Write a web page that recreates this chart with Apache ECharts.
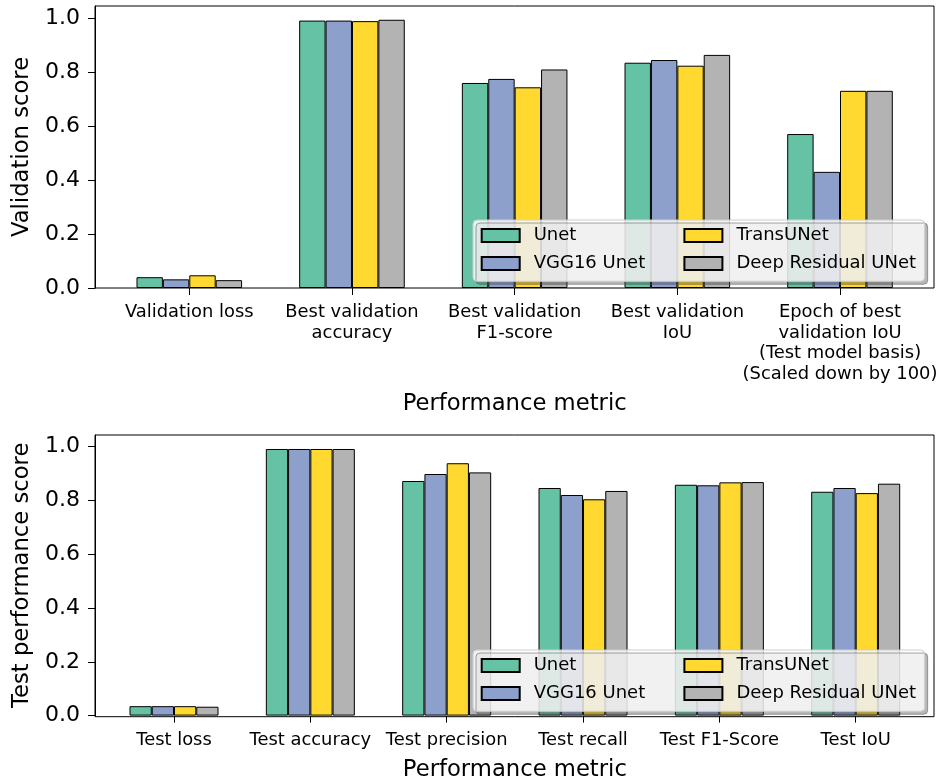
<!DOCTYPE html>
<html>
<head>
<meta charset="utf-8">
<script src="https://cdn.jsdelivr.net/npm/echarts@6/dist/echarts.min.js"></script>
<style>
  html, body { margin: 0; padding: 0; background: #fff; }
  #chart { width: 946px; height: 783px; }
</style>
</head>
<body>
<div id="chart"></div>
<script>
// Models compared in both panels
const modelNames = ['Unet', 'VGG16 Unet', 'TransUNet', 'Deep Residual UNet'];
const modelColors = ['#66c2a5', '#8da0cb', '#ffd92f', '#b3b3b3'];

// Validation panel
const validationMetrics = [
  'Validation loss',
  'Best validation\naccuracy',
  'Best validation\nF1-score',
  'Best validation\nIoU',
  'Epoch of best\nvalidation IoU\n(Test model basis)\n(Scaled down by 100)'
];
const validationUnet = [0.040, 0.990, 0.759, 0.834, 0.57];
const validationVgg16Unet = [0.032, 0.990, 0.774, 0.844, 0.43];
const validationTransUNet = [0.047, 0.988, 0.743, 0.823, 0.73];
const validationResUNet = [0.029, 0.993, 0.809, 0.863, 0.73];

// Test panel
const testMetrics = ['Test loss', 'Test accuracy', 'Test precision', 'Test recall', 'Test F1-Score', 'Test IoU'];
const testUnet = [0.035, 0.991, 0.872, 0.846, 0.858, 0.832];
const testVgg16Unet = [0.035, 0.991, 0.898, 0.820, 0.856, 0.846];
const testTransUNet = [0.035, 0.991, 0.938, 0.804, 0.867, 0.827];
const testResUNet = [0.033, 0.991, 0.904, 0.835, 0.868, 0.862];

const yTickValues = [0, 0.2, 0.4, 0.6, 0.8, 1.0];

const FONT = 'DejaVu Sans';
const validationSets = [validationUnet, validationVgg16Unet, validationTransUNet, validationResUNet];
const testSets = [testUnet, testVgg16Unet, testTransUNet, testResUNet];

// Panel frames (axes box) and the inner plotting bands of each panel
const FRAME_LEFT = 95, FRAME_RIGHT = 12;
const panels = [
  { top: 6, bottom: 495, plotLeft: 107.95, plotRight: 24.65, nameGap: 104.4, yMax: 1.044, yName: 'Validation score', barWidth: 26.4 },
  { top: 435, bottom: 66.3, plotLeft: 105.83, plotRight: 22.13, nameGap: 43.4, yMax: 1.043, yName: 'Test performance score', barWidth: 22.25 }
];

function xAxisFor(gridIndex, labels, nameGap) {
  return {
    type: 'category', gridIndex, data: labels, boundaryGap: true,
    name: 'Performance metric', nameLocation: 'middle', nameGap,
    nameTextStyle: { fontFamily: FONT, fontSize: 22.7, color: '#000' },
    axisLine: { show: false },
    axisTick: { show: true, alignWithLabel: true, interval: 0, length: 7, lineStyle: { color: '#000', width: 1 } },
    axisLabel: {
      interval: 0, margin: 14,
      fontFamily: FONT, fontSize: 17.9, lineHeight: 20.7, color: '#000', align: 'center'
    },
    splitLine: { show: false }
  };
}

function yAxisFor(gridIndex, p) {
  return {
    type: 'value', gridIndex, min: 0, max: p.yMax,
    offset: p.plotLeft - FRAME_LEFT,
    name: p.yName, nameLocation: 'middle', nameGap: 61,
    nameTextStyle: { fontFamily: FONT, fontSize: 22.7, color: '#000' },
    axisLine: { show: true, onZero: false, lineStyle: { color: '#000', width: 1 } },
    axisTick: { show: true, length: 7, lineStyle: { color: '#000', width: 1 }, customValues: yTickValues },
    axisLabel: {
      customValues: yTickValues, margin: 15,
      fontFamily: FONT, fontSize: 22, color: '#000',
      formatter: v => v.toFixed(1)
    },
    splitLine: { show: false }
  };
}

function barsFor(gridIndex, sets, barWidth) {
  return sets.map((values, m) => ({
    type: 'bar',
    name: modelNames[m],
    xAxisIndex: gridIndex, yAxisIndex: gridIndex,
    data: values,
    barWidth, barGap: '0%',
    itemStyle: { color: modelColors[m], borderColor: '#000', borderWidth: 1 },
    emphasis: { disabled: true },
    z: 2
  }));
}

function legendFor(top) {
  return {
    left: 473, top, width: 460,
    orient: 'horizontal', icon: 'rect',
    itemWidth: 38, itemHeight: 13, itemGap: 10,
    padding: [6.5, 8.6, 8.8, 7.7],
    backgroundColor: 'rgba(255,255,255,0.8)',
    borderColor: '#cccccc', borderWidth: 1, borderRadius: 4,
    shadowColor: 'rgba(77,77,77,0.5)', shadowBlur: 0, shadowOffsetX: 3, shadowOffsetY: 3,
    selectedMode: false,
    textStyle: { fontFamily: FONT, fontSize: 18, color: '#000', lineHeight: 17, padding: [0, 0, 0, 9] },
    data: [
      { name: modelNames[0], textStyle: { width: 139.7 } },
      { name: modelNames[2] },
      { name: modelNames[1], textStyle: { width: 139.7 } },
      { name: modelNames[3] }
    ],
    z: 10
  };
}

const chart = echarts.init(document.getElementById('chart'), null, { renderer: 'canvas' });
chart.setOption({
  animation: false,
  backgroundColor: '#fff',
  grid: [
    // plotting grids (category bands)
    { left: panels[0].plotLeft, right: panels[0].plotRight, top: panels[0].top, bottom: panels[0].bottom, show: false, containLabel: false },
    { left: panels[1].plotLeft, right: panels[1].plotRight, top: panels[1].top, bottom: panels[1].bottom, show: false, containLabel: false },
    // axes boxes
    { left: FRAME_LEFT, right: FRAME_RIGHT, top: panels[0].top, bottom: panels[0].bottom, show: true, borderColor: '#000', borderWidth: 1, backgroundColor: 'transparent', z: 3 },
    { left: FRAME_LEFT, right: FRAME_RIGHT, top: panels[1].top, bottom: panels[1].bottom, show: true, borderColor: '#000', borderWidth: 1, backgroundColor: 'transparent', z: 3 }
  ],
  xAxis: [
    xAxisFor(0, validationMetrics, panels[0].nameGap),
    xAxisFor(1, testMetrics, panels[1].nameGap),
    { type: 'value', gridIndex: 2, show: false },
    { type: 'value', gridIndex: 3, show: false }
  ],
  yAxis: [
    yAxisFor(0, panels[0]),
    yAxisFor(1, panels[1]),
    { type: 'value', gridIndex: 2, show: false },
    { type: 'value', gridIndex: 3, show: false }
  ],
  legend: [legendFor(220), legendFor(650)],
  series: [].concat(barsFor(0, validationSets, panels[0].barWidth), barsFor(1, testSets, panels[1].barWidth))
});
</script>
</body>
</html>
